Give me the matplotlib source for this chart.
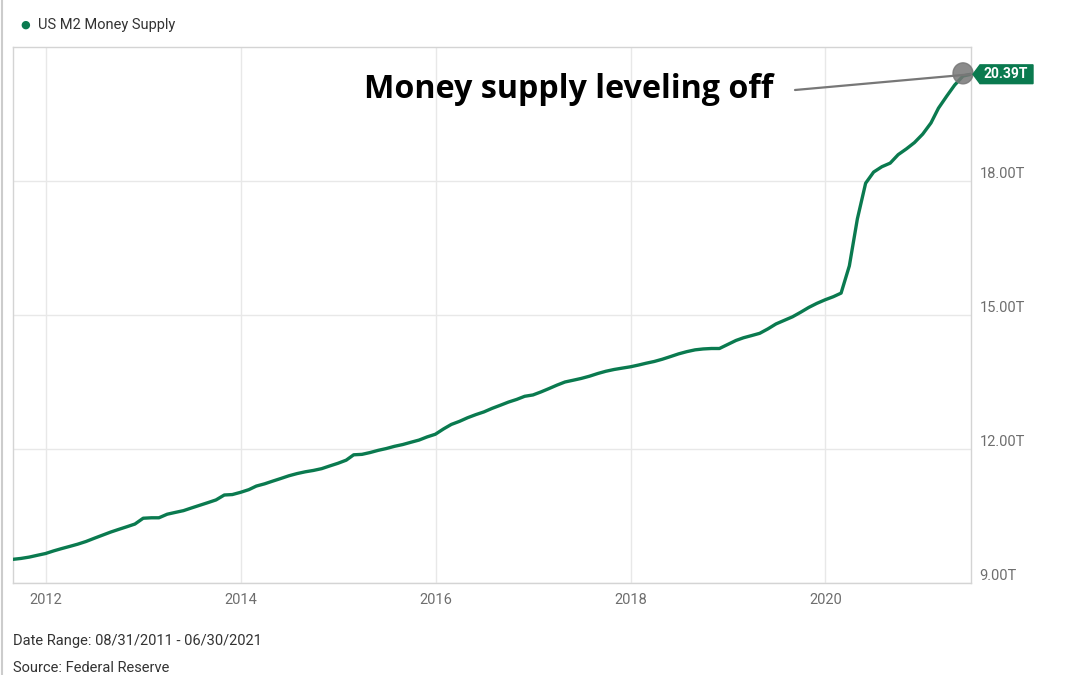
import numpy as np
import pandas as pd
import matplotlib
matplotlib.use("Agg")
import matplotlib.pyplot as plt
from matplotlib.patches import Ellipse, Polygon
from matplotlib.lines import Line2D

plt.rcParams['font.family'] = ['Roboto', 'DejaVu Sans']

# Monthly US M2 money supply (trillions USD), Aug 2011 - Jun 2021
dates = pd.date_range("2011-08-31", "2021-06-30", freq="ME")
m2 = [
    9.53, 9.55, 9.58, 9.62, 9.66,
    9.72, 9.77, 9.82, 9.87, 9.93, 10.00, 10.07, 10.14, 10.20, 10.26, 10.32, 10.45,
    10.46, 10.46, 10.54, 10.58, 10.62, 10.68, 10.74, 10.80, 10.86, 10.97, 10.98, 11.03,
    11.09, 11.17, 11.22, 11.28, 11.34, 11.40, 11.45, 11.49, 11.52, 11.56, 11.62, 11.68,
    11.75, 11.87, 11.88, 11.92, 11.97, 12.01, 12.06, 12.10, 12.15, 12.20, 12.27, 12.33,
    12.45, 12.55, 12.62, 12.70, 12.77, 12.83, 12.91, 12.98, 13.05, 13.11, 13.18, 13.21,
    13.28, 13.35, 13.43, 13.50, 13.54, 13.58, 13.63, 13.69, 13.74, 13.78, 13.81, 13.84,
    13.88, 13.92, 13.96, 14.01, 14.07, 14.13, 14.18, 14.22, 14.24, 14.25, 14.25, 14.34,
    14.43, 14.49, 14.54, 14.59, 14.69, 14.80, 14.88, 14.96, 15.06, 15.17, 15.26, 15.34,
    15.41, 15.49, 16.10, 17.15, 17.95, 18.20, 18.32, 18.40, 18.59, 18.72, 18.86, 19.05,
    19.30, 19.63, 19.90, 20.15, 20.35, 20.39,
]
year_ticks = [2012, 2014, 2016, 2018, 2020]
value_ticks = [9, 12, 15, 18]

green = "#0a7a4f"
grid_c = "#e8e8e8"

fig = plt.figure(figsize=(10.8, 6.75), dpi=100)
ax = fig.add_axes([13 / 1080, 92 / 675, 958 / 1080, 536 / 675])

ax.plot(dates, m2, color=green, lw=2.4, solid_capstyle="round", zorder=3)

ax.set_xlim(dates[0], dates[-1])
ax.set_ylim(9, 21)

ax.set_xticks([pd.Timestamp(f"{y}-01-01") for y in year_ticks])
ax.set_xticklabels([str(y) for y in year_ticks])
ax.set_yticks(value_ticks)
ax.set_yticklabels([f"{v:.2f}T" for v in value_ticks])
ax.grid(True, color=grid_c, lw=1)
ax.set_axisbelow(True)

ax.yaxis.tick_right()
ax.tick_params(axis="both", length=0, labelsize=10.5, colors="#6e6e6e")
ax.tick_params(axis="x", pad=7)
ax.tick_params(axis="y", pad=6)
for lbl in ax.get_yticklabels():
    lbl.set_verticalalignment("bottom")
for s in ax.spines.values():
    s.set_color("#d4d4d4")
    s.set_linewidth(1)

# legend entry
fig.text(25 / 1080, 1 - 25 / 675, "\u25CF", color=green, fontsize=8, ha="center", va="center")
fig.text(38 / 1080, 1 - 25 / 675, "US M2 Money Supply", color="#333333", fontsize=10.5, va="center")

# highlight of the last point
last_x, last_y = dates[-1], m2[-1]
ax.add_artist(Ellipse((1 - 8 / 958, last_y + 0.02), 20 / 958, 0.47, transform=ax.get_yaxis_transform(),
                      color="#777777", alpha=0.85, zorder=4, clip_on=False))
ax.annotate("", xy=(last_x, last_y), xytext=(795 / 1080, 1 - 90 / 675), textcoords="figure fraction",
            arrowprops=dict(arrowstyle="-", color="#777777", lw=1.6, shrinkA=0, shrinkB=0), zorder=4)
fig.text(364 / 1080, 1 - 90 / 675, "Money supply leveling off", fontsize=23.2, fontweight="bold",
         family=["Open Sans", "DejaVu Sans"], color="black", va="center", ha="left")

# value tag on the right axis
ty = last_y
h = 0.21
tag = Polygon([(1 + 2 / 958, ty), (1 + 9 / 958, ty + h), (1 + 62 / 958, ty + h),
               (1 + 62 / 958, ty - h), (1 + 9 / 958, ty - h)], closed=True,
              transform=ax.get_yaxis_transform(), color=green, clip_on=False, zorder=5)
ax.add_patch(tag)
ax.text(1.0 + 12 / 958, ty, f"{last_y:.2f}T", transform=ax.get_yaxis_transform(), color="white",
        fontsize=10, fontweight="bold", va="center", ha="left", zorder=6, clip_on=False)

# footer
fig.text(13 / 1080, 1 - 641 / 675, "Date Range: 08/31/2011 - 06/30/2021", color="#333333",
         fontsize=10.5, va="center")
fig.text(13 / 1080, 1 - 668 / 675, "Source: Federal Reserve", color="#333333", fontsize=10.5, va="center")

# left page border
fig.add_artist(Line2D([2 / 1080, 2 / 1080], [0, 1], color="#cccccc", lw=1.5, transform=fig.transFigure))

fig.savefig("out.png", dpi=100)
